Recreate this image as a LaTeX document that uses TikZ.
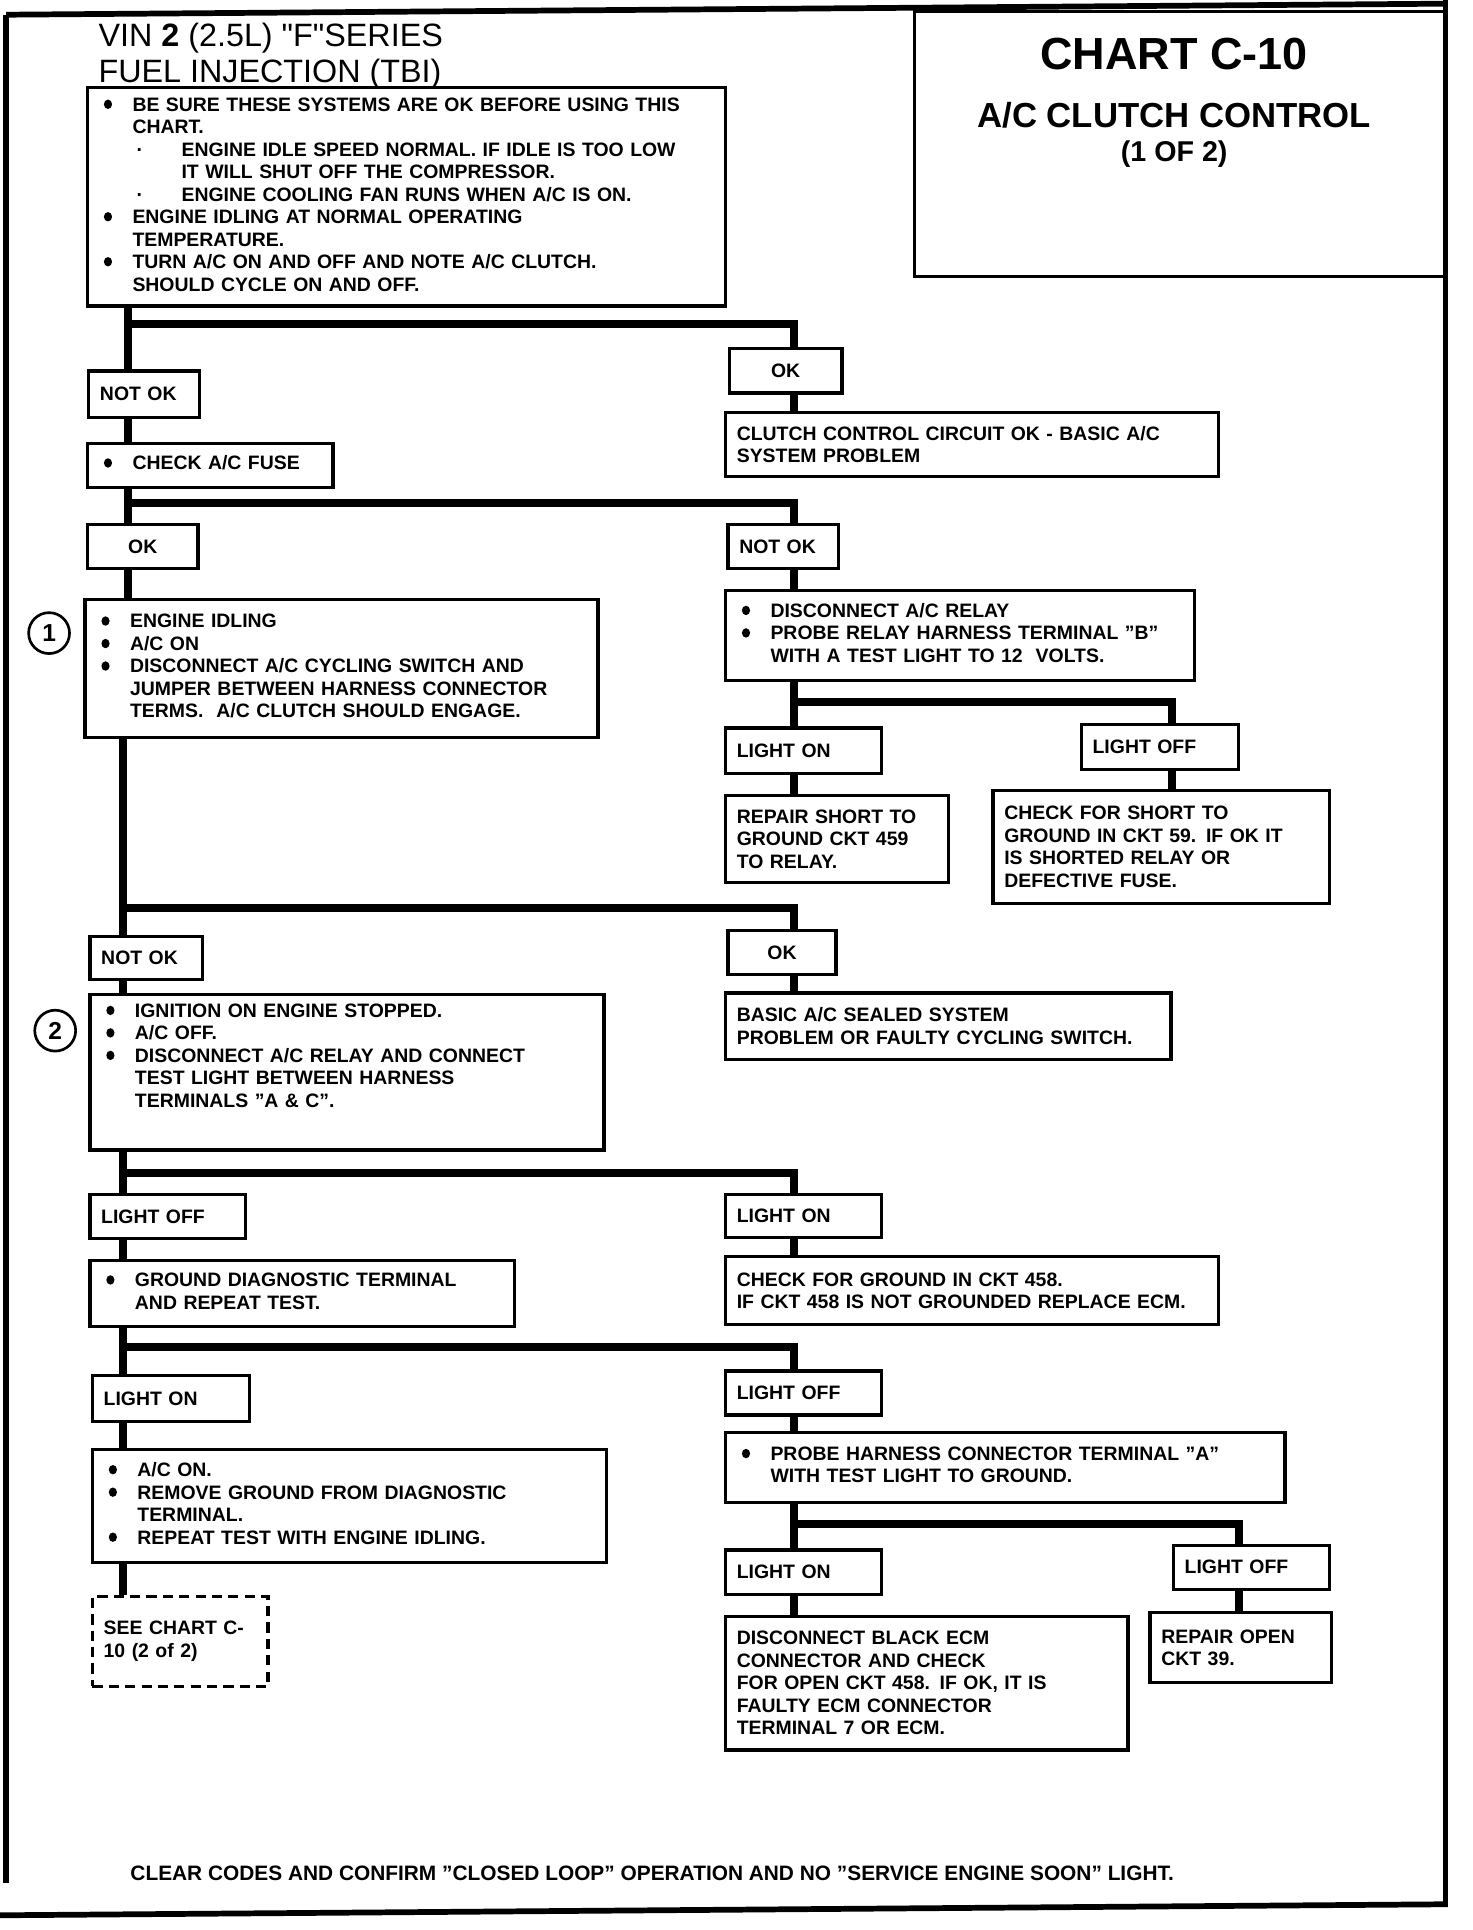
\documentclass[tikz,border=0pt]{standalone}
\usepackage{fontspec}
\setmainfont{Liberation Sans}
\newfontfamily\hdrfamily{Liberation Sans}
\usetikzlibrary{positioning}

\newcommand{\boxfont}{\fontsize{9.5}{11}\selectfont\bfseries}
\newcommand{\bul}{\tikz[baseline=0pt]\fill (2.2pt,3.4pt) circle[x radius=2pt, y radius=2.3pt];}
\newcommand{\sub}{\makebox[24pt][l]{\hspace{2pt}·}}
\newcommand{\subc}{\hspace*{24pt}}
\newenvironment{blist}{\begin{tabular}{@{\hspace{2.5pt}}p{14pt}@{}l@{}}}{\end{tabular}}

\begin{document}
\begin{tikzpicture}[x=0.6pt, y=-0.6pt,
    box/.style={draw, line width=1.6pt, anchor=north west, inner xsep=5.5pt,
      inner ysep=0pt, align=left, font=\boxfont},
    okbox/.style={box, align=center},
    seebox/.style={box, dash pattern=on 5pt off 3pt},
    sz/.code 2 args={%
      \pgfmathsetmacro\bw{#1*0.6}\pgfmathsetmacro\bh{#2*0.6}%
      \pgfmathsetmacro\tw{#1*0.6-11}%
      \edef\szopts{minimum width=\bw pt, minimum height=\bh pt, text width=\tw pt}%
      \expandafter\tikzset\expandafter{\szopts}},
    link/.style={line width=4pt},
    border/.style={line width=2.8pt},
    num/.style={circle, draw, line width=1.3pt, minimum size=20pt, inner sep=0pt,
      font=\fontsize{12}{14}\selectfont\bfseries},
    hdr/.style={anchor=base west, inner sep=0pt, font=\hdrfamily\fontsize{15.8}{18}\selectfont},
    ttl/.style={anchor=base, inner sep=0pt}]
  \useasboundingbox (0,0) rectangle (1200,1573);

  % Page frame
  \draw[border] (5,12) -- (1178,3);
  \draw[border] (1178,0) -- (1178,1553);
  \draw[border] (0,1561) -- (1180,1552);
  \draw[border] (5,12) -- (5,1535);

  % Header
  \node[hdr] (vin) at (80,38) {VIN \textbf{2} (2.5L) "F"SERIES};
  \node[hdr] (tbi) at (80,67) {FUEL INJECTION (TBI)};

  % Title box
  \node[draw, line width=1.4pt, anchor=north west, inner sep=0pt, sz={434}{216}] (title) at (744,8) {};
  \node[ttl, font=\fontsize{22}{26}\selectfont\bfseries] (chart) at (957,57) {CHART C-10};
  \node[ttl, font=\fontsize{17}{20}\selectfont\bfseries] (clutchctl) at (957,104) {A/C CLUTCH CONTROL};
  \node[ttl, font=\fontsize{14}{16}\selectfont\bfseries] (page) at (957,132) {(1 OF 2)};

  % Columns and branch levels
  \coordinate (xL) at (104,0);
  \coordinate (xD) at (100,0);
  \coordinate (xR) at (647,0);
  \coordinate (xS) at (955,0);
  \coordinate (xT) at (1010,0);
  \coordinate (b1) at (0,264);
  \coordinate (b2) at (0,410);
  \coordinate (b3) at (0,740);
  \coordinate (b4) at (0,956);
  \coordinate (b5) at (0,1098);
  \coordinate (b6) at (0,572);
  \coordinate (b7) at (0,1242);

  % Start
  \node[box, sz={520}{178}] (start) at (70,70) {\begin{blist}
    \bul & BE SURE THESE SYSTEMS ARE OK BEFORE USING THIS\\
     & CHART.\\
     & \sub ENGINE IDLE SPEED NORMAL. IF IDLE IS TOO LOW\\
     & \subc IT WILL SHUT OFF THE COMPRESSOR.\\
     & \sub ENGINE COOLING FAN RUNS WHEN A/C IS ON.\\
    \bul & ENGINE IDLING AT NORMAL OPERATING\\
     & TEMPERATURE.\\
    \bul & TURN A/C ON AND OFF AND NOTE A/C CLUTCH.\\
     & SHOULD CYCLE ON AND OFF.
  \end{blist}};

  \node[box, sz={90}{38}] (notok1) at (71,301) {NOT OK};
  \node[okbox, sz={92}{36}] (ok1) at (593,283) {OK};
  \node[box, sz={402}{52}] (clutch) at (590,335) {CLUTCH CONTROL CIRCUIT OK - BASIC A/C\\SYSTEM PROBLEM};
  \node[box, sz={200}{36}] (fuse) at (70,360) {\begin{blist}\bul & CHECK A/C FUSE\end{blist}};

  % Fuse result
  \node[okbox, sz={90}{36}] (ok2) at (70,426) {OK};
  \node[box, sz={90}{36}] (notok2) at (592,426) {NOT OK};

  \node[box, sz={418}{113}] (step1) at (68,487) {\begin{blist}
    \bul & ENGINE IDLING\\
    \bul & A/C ON\\
    \bul & DISCONNECT A/C CYCLING SWITCH AND\\
     & JUMPER BETWEEN HARNESS CONNECTOR\\
     & TERMS.\ \ A/C CLUTCH SHOULD ENGAGE.
  \end{blist}};
  \node[num] (c1) at (40,516) {1};

  \node[box, sz={382}{73}] (relay) at (590,480) {\begin{blist}
    \bul & DISCONNECT A/C RELAY\\
    \bul & PROBE RELAY HARNESS TERMINAL "B"\\
     & WITH A TEST LIGHT TO 12\ \ VOLTS.
  \end{blist}};
  \node[box, sz={127}{37}] (lon1) at (590,592) {LIGHT ON};
  \node[box, sz={128}{37}] (loff1) at (880,589) {LIGHT OFF};
  \node[box, sz={182}{71}] (repair1) at (590,647) {REPAIR SHORT TO\\GROUND CKT 459\\TO RELAY.};
  \node[box, sz={274}{92}] (short59) at (808,643) {CHECK FOR SHORT TO\\GROUND IN CKT 59. IF OK IT\\IS SHORTED RELAY OR\\DEFECTIVE FUSE.};

  % Step 1 result
  \node[box, sz={92}{35}] (notok3) at (72,762) {NOT OK};
  \node[okbox, sz={88}{36}] (ok3) at (592,757) {OK};
  \node[box, sz={363}{54}] (sealed) at (590,808) {BASIC A/C SEALED SYSTEM\\PROBLEM OR FAULTY CYCLING SWITCH.};

  \node[box, sz={419}{127}] (step2) at (72,809) {\begin{blist}
    \bul & IGNITION ON ENGINE STOPPED.\\
    \bul & A/C OFF.\\
    \bul & DISCONNECT A/C RELAY AND CONNECT\\
     & TEST LIGHT BETWEEN HARNESS\\
     & TERMINALS "A \& C".\\[14pt]
  \end{blist}};
  \node[num] (c2) at (45,840) {2};

  % Step 2 result
  \node[box, sz={127}{36}] (loff2) at (72,972) {LIGHT OFF};
  \node[box, sz={127}{35}] (lon2) at (590,972) {LIGHT ON};
  \node[box, sz={346}{54}] (gnd) at (72,1026) {\begin{blist}
    \bul & GROUND DIAGNOSTIC TERMINAL\\
     & AND REPEAT TEST.
  \end{blist}};
  \node[box, sz={402}{55}] (ckt458) at (590,1023) {CHECK FOR GROUND IN CKT 458.\\IF CKT 458 IS NOT GROUNDED REPLACE ECM.};

  \node[box, sz={128}{37}] (lon3) at (74,1120) {LIGHT ON};
  \node[box, sz={127}{36}] (loff3) at (590,1116) {LIGHT OFF};
  \node[box, sz={419}{92}] (step3) at (74,1180) {\begin{blist}
    \bul & A/C ON.\\
    \bul & REMOVE GROUND FROM DIAGNOSTIC\\
     & TERMINAL.\\
    \bul & REPEAT TEST WITH ENGINE IDLING.
  \end{blist}};
  \node[seebox, sz={143}{73}] (see) at (74,1300) {SEE CHART C-\\10 (2 of 2)};

  \node[box, sz={456}{57}] (probe) at (590,1166) {\begin{blist}
    \bul & PROBE HARNESS CONNECTOR TERMINAL "A"\\
     & WITH TEST LIGHT TO GROUND.
  \end{blist}};
  \node[box, sz={127}{36}] (lon4) at (590,1262) {LIGHT ON};
  \node[box, sz={127}{36}] (loff4) at (955,1258) {LIGHT OFF};
  \node[box, sz={328}{109}] (ecm) at (590,1316) {DISCONNECT BLACK ECM\\CONNECTOR AND CHECK\\FOR OPEN CKT 458. IF OK, IT IS\\FAULTY ECM CONNECTOR\\TERMINAL 7 OR ECM.};
  \node[box, sz={148}{57}] (rep39) at (936,1313) {REPAIR OPEN\\CKT 39.};

  % Footer
  \node[anchor=base west, inner sep=0pt, font=\fontsize{10.2}{12}\selectfont\bfseries] (note) at (106,1533)
    {CLEAR CODES AND CONFIRM "CLOSED LOOP" OPERATION AND NO "SERVICE ENGINE SOON" LIGHT.};

  % Connectors
  \draw[link] (start.south -| xL) -- (notok1.north -| xL);
  \draw[link] (xL |- b1) -| (ok1.north -| xR);
  \draw[link] (ok1.south -| xR) -- (clutch.north -| xR);
  \draw[link] (notok1.south -| xL) -- (fuse.north -| xL);

  \draw[link] (fuse.south -| xL) -- (ok2.north -| xL);
  \draw[link] (xL |- b2) -| (notok2.north -| xR);
  \draw[link] (ok2.south -| xL) -- (step1.north -| xL);
  \draw[link] (notok2.south -| xR) -- (relay.north -| xR);

  \draw[link] (relay.south -| xR) -- (lon1.north -| xR);
  \draw[link] (xR |- b6) -| (loff1.north -| xS);
  \draw[link] (lon1.south -| xR) -- (repair1.north -| xR);
  \draw[link] (loff1.south -| xS) -- (short59.north -| xS);

  \draw[link] (step1.south -| xD) -- (notok3.north -| xD);
  \draw[link] (xD |- b3) -| (ok3.north -| xR);
  \draw[link] (ok3.south -| xR) -- (sealed.north -| xR);
  \draw[link] (notok3.south -| xD) -- (step2.north -| xD);

  \draw[link] (step2.south -| xD) -- (loff2.north -| xD);
  \draw[link] (xD |- b4) -| (lon2.north -| xR);
  \draw[link] (loff2.south -| xD) -- (gnd.north -| xD);
  \draw[link] (lon2.south -| xR) -- (ckt458.north -| xR);

  \draw[link] (gnd.south -| xD) -- (lon3.north -| xD);
  \draw[link] (xD |- b5) -| (loff3.north -| xR);
  \draw[link] (lon3.south -| xD) -- (step3.north -| xD);
  \draw[link] (step3.south -| xD) -- (see.north -| xD);
  \draw[link] (loff3.south -| xR) -- (probe.north -| xR);

  \draw[link] (probe.south -| xR) -- (lon4.north -| xR);
  \draw[link] (xR |- b7) -| (loff4.north -| xT);
  \draw[link] (lon4.south -| xR) -- (ecm.north -| xR);
  \draw[link] (loff4.south -| xT) -- (rep39.north -| xT);
\end{tikzpicture}
\end{document}
